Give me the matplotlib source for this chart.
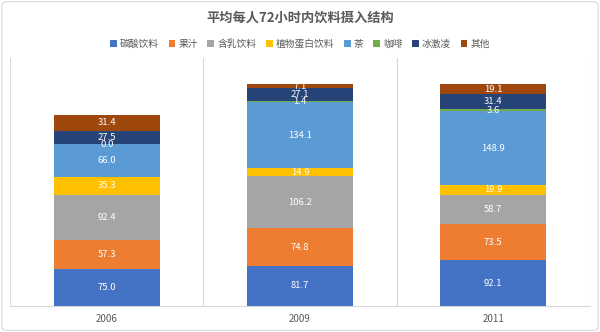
import numpy as np
import matplotlib
matplotlib.use("Agg")
import matplotlib.pyplot as plt
from matplotlib.patches import FancyBboxPatch

plt.rcParams['font.family'] = ['Noto Sans CJK SC', 'DejaVu Sans']

years = ['2006', '2009', '2011']
series = ['碳酸饮料', '果汁', '含乳饮料', '植物蛋白饮料', '茶', '咖啡', '冰激凌', '其他']
values = [
    [75.0, 81.7, 92.1],     # 碳酸饮料
    [57.3, 74.8, 73.5],     # 果汁
    [92.4, 106.2, 58.7],    # 含乳饮料
    [35.3, 14.9, 19.9],     # 植物蛋白饮料
    [66.0, 134.1, 148.9],   # 茶
    [0.0, 1.4, 3.6],        # 咖啡
    [27.5, 27.1, 31.4],     # 冰激凌
    [31.4, 7.1, 19.1],      # 其他
]
colors = ['#4472C4', '#ED7D31', '#A5A5A5', '#FFC000', '#5B9BD5', '#70AD47', '#264478', '#9E480E']

fig = plt.figure(figsize=(6, 3.32), dpi=100)
# outer border
fig.patches.append(FancyBboxPatch((0.003, 0.005), 0.994, 0.99, boxstyle="round,pad=0,rounding_size=0.01",
                                  transform=fig.transFigure, fill=False, edgecolor='#D9D9D9', lw=0.8))

ax = fig.add_axes([0.017, 0.078, 0.966, 0.747])
x = np.arange(len(years))
bottom = np.zeros(len(years))
for name, vals, c in zip(series, values, colors):
    vals = np.array(vals)
    ax.bar(x, vals, width=0.55, bottom=bottom, color=c, label=name, zorder=3)
    for xi, b, v in zip(x, bottom, vals):
        ax.text(xi, b + v / 2, f'{v:.1f}', ha='center', va='center', color='white', fontsize=6.8, zorder=4)
    bottom += vals

ax.set_ylim(0, 500)
ax.set_xlim(-0.5, 2.5)
ax.set_yticks([])
ax.set_xticks(x)
ax.set_xticklabels(years, color='#595959', fontsize=7)
ax.tick_params(axis='x', length=0, pad=6)
for xv in [-0.5, 0.5, 1.5, 2.5]:
    ax.axvline(xv, color='#D9D9D9', lw=0.8, zorder=1)
for s in ['top', 'left', 'right']:
    ax.spines[s].set_visible(False)
ax.spines['bottom'].set_color('#D9D9D9')

fig.text(0.5, 0.947, '平均每人72小时内饮料摄入结构', ha='center', va='center', fontsize=9.5,
         fontweight='bold', color='#595959')
fig.legend(loc='center', bbox_to_anchor=(0.5, 0.868), ncol=8, fontsize=7, frameon=False,
           handlelength=0.7, handleheight=0.7, handletextpad=0.3, columnspacing=1.0, labelcolor='#595959')

fig.savefig('out.png', dpi=100)
